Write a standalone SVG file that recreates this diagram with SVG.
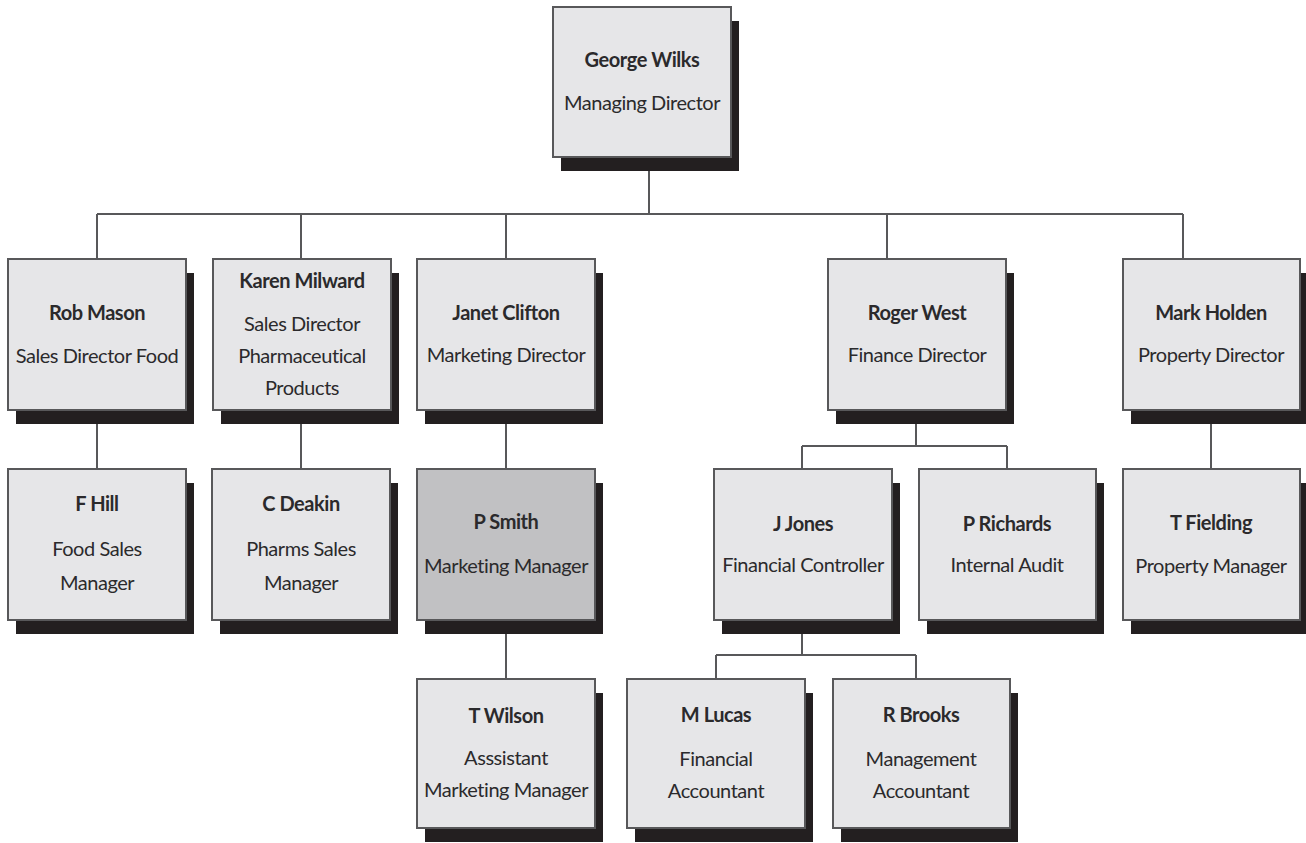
<svg xmlns="http://www.w3.org/2000/svg" width="1306" height="843" viewBox="0 0 1306 843">
<style>
.bg{fill:#ffffff}
.sh{fill:#231f20}
.bx{fill:#e6e6e8;stroke:#58585a;stroke-width:2}
.hl{fill:#c1c1c3}
.ln{fill:none;stroke:#58585a;stroke-width:2}
text{font-family:Lato,"Open Sans","Liberation Sans",sans-serif;font-size:20px;letter-spacing:-0.45px;fill:#2b2a2c;text-anchor:middle}
.nm{font-weight:700}
</style>
<rect class="bg" x="0" y="0" width="1306" height="843"/>
<g id="connectors">
<path class="ln" d="M649 157V214M97 214H1183M97 214V259M301 214V259M506 214V259M887 214V259M1183 214V259"/>
<path class="ln" d="M97 410V469M301 410V469M506 410V469M506 620V679M1211 410V469"/>
<path class="ln" d="M916 410V446M802 446H1007M802 446V469M1007 446V469"/>
<path class="ln" d="M802 620V655M716 655H916M716 655V679M916 655V679"/>
</g>
<g id="george-wilks">
<rect class="sh" x="561" y="21" width="178" height="150"/>
<rect class="bx" x="553" y="7" width="178" height="150"/>
<text class="nm" x="642" y="67">George Wilks</text>
<text x="642" y="110">Managing Director</text>
</g>
<g id="rob-mason">
<rect class="sh" x="16" y="273" width="178" height="151"/>
<rect class="bx" x="8" y="259" width="178" height="151"/>
<text class="nm" x="97" y="320">Rob Mason</text>
<text x="97" y="363">Sales Director Food</text>
</g>
<g id="karen-milward">
<rect class="sh" x="221" y="273" width="178" height="151"/>
<rect class="bx" x="213" y="259" width="178" height="151"/>
<text class="nm" x="302" y="288">Karen Milward</text>
<text x="302" y="331">Sales Director</text>
<text x="302" y="363">Pharmaceutical</text>
<text x="302" y="395">Products</text>
</g>
<g id="janet-clifton">
<rect class="sh" x="425" y="273" width="178" height="151"/>
<rect class="bx" x="417" y="259" width="178" height="151"/>
<text class="nm" x="506" y="320">Janet Clifton</text>
<text x="506" y="362">Marketing Director</text>
</g>
<g id="roger-west">
<rect class="sh" x="836" y="273" width="178" height="151"/>
<rect class="bx" x="828" y="259" width="178" height="151"/>
<text class="nm" x="917" y="320">Roger West</text>
<text x="917" y="362">Finance Director</text>
</g>
<g id="mark-holden">
<rect class="sh" x="1131" y="273" width="177" height="151"/>
<rect class="bx" x="1123" y="259" width="177" height="151"/>
<text class="nm" x="1211" y="320">Mark Holden</text>
<text x="1211" y="362">Property Director</text>
</g>
<g id="f-hill">
<rect class="sh" x="16" y="483" width="178" height="151"/>
<rect class="bx" x="8" y="469" width="178" height="151"/>
<text class="nm" x="97" y="511">F Hill</text>
<text x="97" y="556">Food Sales</text>
<text x="97" y="590">Manager</text>
</g>
<g id="c-deakin">
<rect class="sh" x="220" y="483" width="178" height="151"/>
<rect class="bx" x="212" y="469" width="178" height="151"/>
<text class="nm" x="301" y="511">C Deakin</text>
<text x="301" y="556">Pharms Sales</text>
<text x="301" y="590">Manager</text>
</g>
<g id="p-smith">
<rect class="sh" x="425" y="483" width="178" height="151"/>
<rect class="bx hl" x="417" y="469" width="178" height="151"/>
<text class="nm" x="506" y="529">P Smith</text>
<text x="506" y="573">Marketing Manager</text>
</g>
<g id="j-jones">
<rect class="sh" x="722" y="483" width="178" height="151"/>
<rect class="bx" x="714" y="469" width="178" height="151"/>
<text class="nm" x="803" y="531">J Jones</text>
<text x="803" y="572">Financial Controller</text>
</g>
<g id="p-richards">
<rect class="sh" x="927" y="483" width="177" height="151"/>
<rect class="bx" x="919" y="469" width="177" height="151"/>
<text class="nm" x="1007" y="531">P Richards</text>
<text x="1007" y="572">Internal Audit</text>
</g>
<g id="t-fielding">
<rect class="sh" x="1131" y="483" width="177" height="151"/>
<rect class="bx" x="1123" y="469" width="177" height="151"/>
<text class="nm" x="1211" y="530">T Fielding</text>
<text x="1211" y="573">Property Manager</text>
</g>
<g id="t-wilson">
<rect class="sh" x="425" y="693" width="178" height="149"/>
<rect class="bx" x="417" y="679" width="178" height="149"/>
<text class="nm" x="506" y="723">T Wilson</text>
<text x="506" y="765">Asssistant</text>
<text x="506" y="797">Marketing Manager</text>
</g>
<g id="m-lucas">
<rect class="sh" x="635" y="693" width="178" height="149"/>
<rect class="bx" x="627" y="679" width="178" height="149"/>
<text class="nm" x="716" y="722">M Lucas</text>
<text x="716" y="766">Financial</text>
<text x="716" y="798">Accountant</text>
</g>
<g id="r-brooks">
<rect class="sh" x="841" y="693" width="177" height="149"/>
<rect class="bx" x="833" y="679" width="177" height="149"/>
<text class="nm" x="921" y="722">R Brooks</text>
<text x="921" y="766">Management</text>
<text x="921" y="798">Accountant</text>
</g>
</svg>
